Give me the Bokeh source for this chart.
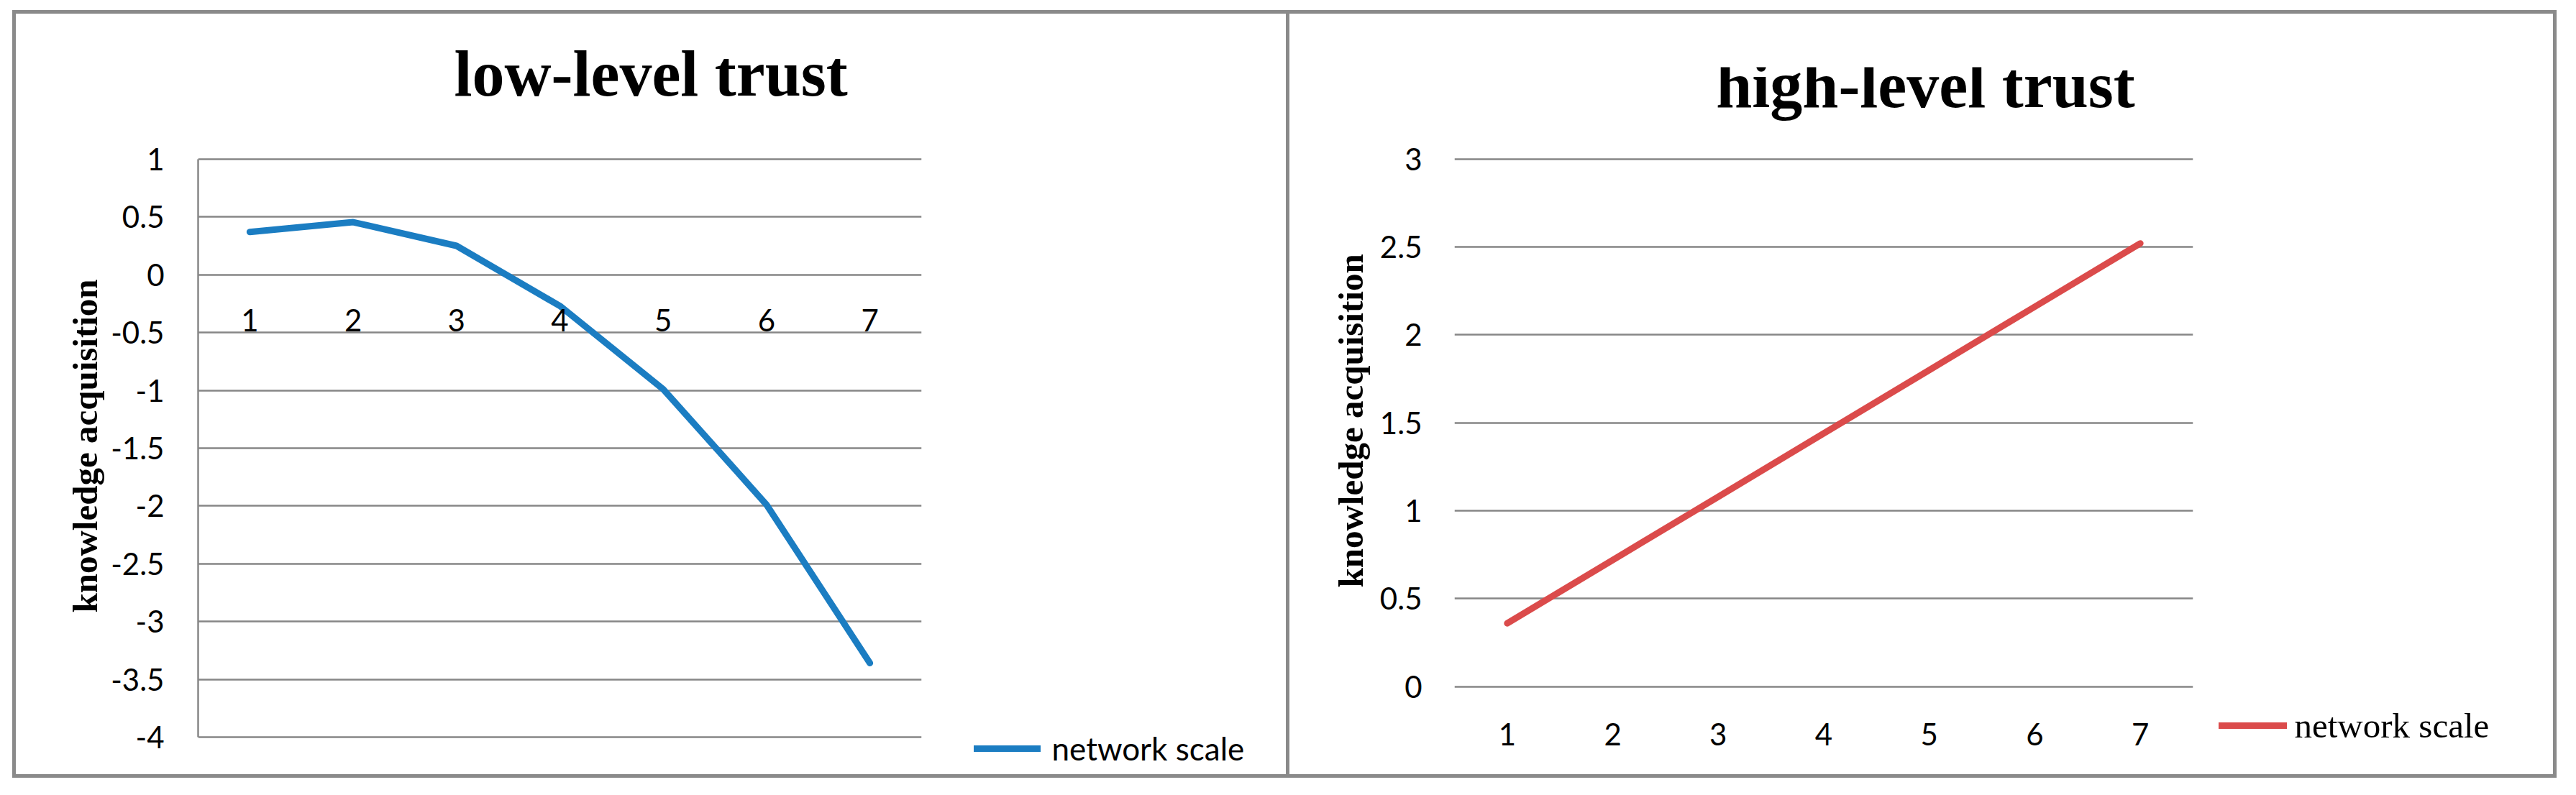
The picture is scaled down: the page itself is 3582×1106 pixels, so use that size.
from bokeh.plotting import figure
from bokeh.models import (FixedTicker, Legend, LegendItem, ColumnDataSource,
                          Title, Spacer, Label)
from bokeh.layouts import row, column
from bokeh.core.properties import value
from bokeh.embed import file_html
from bokeh.resources import INLINE

# ---------------- data ----------------
categories = ["1", "2", "3", "4", "5", "6", "7"]
low_trust = [0.37, 0.455, 0.25, -0.27, -0.99, -1.99, -3.36]
high_trust = [0.36, 0.72, 1.08, 1.44, 1.80, 2.16, 2.52]

low_ticks = [-4, -3.5, -3, -2.5, -2, -1.5, -1, -0.5, 0, 0.5, 1]
low_tick_labels = ["-4", "-3.5", "-3", "-2.5", "-2", "-1.5", "-1", "-0.5", "0", "0.5", "1"]
high_ticks = [0, 0.5, 1, 1.5, 2, 2.5, 3]
high_tick_labels = ["0", "0.5", "1", "1.5", "2", "2.5", "3"]

titles = ["low-level trust", "high-level trust"]
y_title = "knowledge acquisition"
series_name = "network scale"
low_axis_cross = 0
high_axis_cross = 0

# ---------------- styles / geometry ----------------
BLUE = "#1B7DC2"
RED = "#DB4B4B"
GRID = "#878787"
BORDER = "#8A8A8A"
SANS = "Lato"
SERIF = "Liberation Serif"
PH = 1058          # inner panel height
BW = 5             # border thickness
LW = 9             # series line width
TOP1 = 144         # space above the left plotting area
TOP2 = 74          # space above the right plotting area
LOW_PX = 160.8     # pixels per unit, left chart
HIGH_PX = 244.7    # pixels per unit, right chart
LOW_GAP = 57.9     # pixels between frame top and top gridline, left
HIGH_GAP = 127.7   # pixels between frame top and top gridline, right


def style_common(p):
    p.outline_line_color = None
    p.background_fill_color = "white"
    p.border_fill_color = "white"
    p.xgrid.visible = False
    p.xaxis.visible = False


def style_yaxis(p, ticks, labels, axis_line, title_standoff, label_standoff):
    p.yaxis.bounds = (ticks[0], ticks[-1])
    p.yaxis.ticker = FixedTicker(ticks=ticks)
    p.yaxis.major_label_overrides = {t: s for t, s in zip(ticks, labels)}
    p.yaxis.major_tick_line_color = None
    p.yaxis.minor_tick_line_color = None
    p.yaxis.major_tick_out = 0
    p.yaxis.major_tick_in = 0
    p.yaxis.minor_tick_out = 0
    p.yaxis.major_label_standoff = label_standoff
    p.yaxis.major_label_text_font = SANS
    p.yaxis.major_label_text_font_size = "42px"
    p.yaxis.major_label_text_color = "black"
    p.yaxis.axis_label = y_title
    p.yaxis.axis_label_text_font = SERIF
    p.yaxis.axis_label_text_font_style = "bold"
    p.yaxis.axis_label_text_font_size = "49px"
    p.yaxis.axis_label_text_color = "black"
    p.yaxis.axis_label_standoff = title_standoff
    if axis_line:
        p.yaxis.axis_line_color = GRID
        p.yaxis.axis_line_width = 2.5
    else:
        p.yaxis.axis_line_color = None
    p.ygrid.ticker = FixedTicker(ticks=ticks)
    p.ygrid.grid_line_color = GRID
    p.ygrid.grid_line_width = 2.5


def x_labels(p, cross, offset):
    src = ColumnDataSource(dict(x=categories, y=[cross] * len(categories),
                                t=categories))
    p.text(x="x", y="y", text="t", source=src, text_font=value(SANS),
           text_font_size="42px", text_color="black", text_align="center",
           text_baseline="middle", y_offset=offset)


def legend_figure(width, top, ys, color, loc, glyph_w, standoff, font, size):
    """A frame-only figure that hosts the series legend beside the chart."""
    q = figure(width=width, height=PH, x_range=categories, y_range=(0, 1),
               output_backend="svg", toolbar_location=None,
               x_axis_location=None, y_axis_location=None,
               min_border_left=0, min_border_right=0,
               min_border_top=top, min_border_bottom=0)
    q.grid.visible = False
    q.outline_line_color = None
    q.background_fill_color = "white"
    q.border_fill_color = "white"
    r = q.line(x=categories, y=ys, line_color=color, line_width=LW,
               line_cap="round", line_join="round", visible=False)
    q.add_layout(Legend(items=[LegendItem(label=series_name, renderers=[r])],
                        location=loc, padding=0, margin=0, spacing=0,
                        glyph_width=glyph_w, glyph_height=60, label_height=60,
                        label_standoff=standoff, label_text_font=font,
                        label_text_font_size=size, label_text_color="black",
                        border_line_color=None, background_fill_alpha=0,
                        inactive_fill_alpha=0, click_policy="none"))
    return q


# ---------------- left chart ----------------
W1 = 1766
W1A = 1300
low_end = low_ticks[-1] + LOW_GAP / LOW_PX
low_range = (low_end - (PH - TOP1) / LOW_PX, low_end)
p1 = figure(width=W1A, height=PH, x_range=categories, y_range=low_range,
            output_backend="svg", toolbar_location=None,
            min_border_left=253, min_border_right=W1A - 1259,
            min_border_top=TOP1, min_border_bottom=0)
p1.title = Title(text=titles[0], align="left", offset=356, standoff=23,
                 text_font=SERIF, text_font_style="bold",
                 text_font_size="90px", text_color="black")
style_common(p1)
style_yaxis(p1, low_ticks, low_tick_labels, True, 5, 47)

p1.line(x=categories, y=low_trust, line_color=BLUE, line_width=LW,
        line_cap="round", line_join="round")
x_labels(p1, low_axis_cross, 63)

leg1 = legend_figure(W1 - W1A, TOP1, low_trust, BLUE, (31.5, 6), 93, 16,
                     SANS, "44px")

# ---------------- right chart ----------------
W2 = 1757
W2A = 1280
high_end = high_ticks[-1] + HIGH_GAP / HIGH_PX
high_range = (high_end - (PH - TOP2) / HIGH_PX, high_end)
p2 = figure(width=W2A, height=PH, x_range=categories, y_range=high_range,
            output_backend="svg", toolbar_location=None,
            min_border_left=229, min_border_right=W2A - 1256,
            min_border_top=TOP2, min_border_bottom=0)
style_common(p2)
style_yaxis(p2, high_ticks, high_tick_labels, False, 10, 45)

p2.line(x=categories, y=high_trust, line_color=RED, line_width=LW,
        line_cap="round", line_join="round")
x_labels(p2, high_axis_cross, 66)

# chart title, centred over the panel (panel centre lies 655 px right of the frame edge)
p2.add_layout(Label(x=655 / ((1256 - 229) / len(categories)),
                    y=high_end - 25 / HIGH_PX,
                    text=titles[1], text_font=SERIF, text_font_style="bold",
                    text_font_size="90px", text_color="black",
                    text_align="center", text_baseline="alphabetic"))

leg2 = legend_figure(W2 - W2A, TOP2, high_trust, RED, (11.5, 38), 95, 11,
                     SERIF, "49px")


# ---------------- panel borders (layout) ----------------
def bar(w, h):
    return Spacer(width=w, height=h, margin=0,
                  styles={"background-color": BORDER})


panel1 = column(bar(W1, BW), row(p1, leg1, spacing=0), bar(W1, BW), spacing=0)
panel2 = column(bar(W2, BW), row(p2, leg2, spacing=0), bar(W2, BW), spacing=0)
full_h = PH + 2 * BW
body = row(Spacer(width=17, height=full_h, margin=0), bar(BW, full_h), panel1,
           bar(BW, full_h), panel2, bar(BW, full_h), spacing=0)
layout = column(Spacer(width=10, height=14, margin=0), body, spacing=0)

open("out.html", "w").write(file_html(layout, INLINE))
